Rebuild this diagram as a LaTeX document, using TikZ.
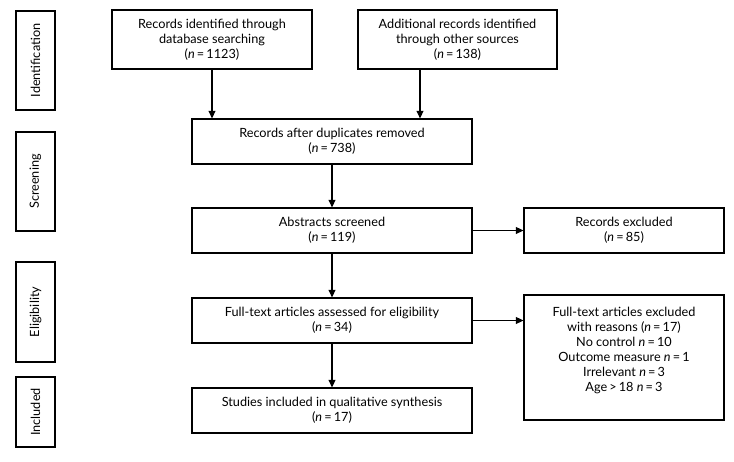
\documentclass[tikz,border=0pt]{standalone}
\usepackage{fontspec}
\setmainfont{Lato}
\usetikzlibrary{arrows.meta}
\begin{document}
\begin{tikzpicture}[x=1pt,y=-1pt,
  every node/.style={font=\fontsize{12.7}{15}\selectfont},
  box/.style={draw, line width=1.3pt, align=center, inner sep=0pt},
  side/.style={draw, line width=1.3pt, minimum width=39pt, inner sep=0pt},
  arr/.style={line width=1.3pt, -{Triangle[width=7pt,length=7.5pt]}}]
\useasboundingbox (0,0) rectangle (734,462);
% side labels
\node[side, minimum height=99pt] (sid) at (35.5,60.5) {};
\node[rotate=90] (sidt) at (sid.center) {Identification};
\node[side, minimum height=99pt] (sscr) at (35.5,181.5) {};
\node[rotate=90] (sscrt) at (sscr.center) {Screening};
\node[side, minimum height=100pt] (selg) at (35.5,312) {};
\node[rotate=90] (selgt) at (selg.center) {Eligibility};
\node[side, minimum height=70pt] (sinc) at (35.5,412) {};
\node[rotate=90] (sinct) at (sinc.center) {Included};
% main boxes
\node[box, minimum width=200pt, minimum height=59pt] (db) at (212,39.5)
  {Records identified through\\database searching\\(\textit{n}\,=\,1123)};
\node[box, minimum width=199pt, minimum height=59pt] (oth) at (457.5,39.5)
  {Additional records identified\\through other sources\\(\textit{n}\,=\,138)};
\node[box, minimum width=280pt, minimum height=45pt] (dup) at (332,141.5)
  {Records after duplicates removed\\(\textit{n}\,=\,738)};
\node[box, minimum width=280pt, minimum height=45pt] (abs) at (332,230.5)
  {Abstracts screened\\(\textit{n}\,=\,119)};
\node[box, minimum width=200pt, minimum height=45pt] (ex1) at (624,230.5)
  {Records excluded\\(\textit{n}\,=\,85)};
\node[box, minimum width=280pt, minimum height=45pt] (full) at (332,320.5)
  {Full-text articles assessed for eligibility\\(\textit{n}\,=\,34)};
\node[box, minimum width=200pt, minimum height=125pt] (ex2) at (624,357.5) {};
\node[align=center] (ex2t) at (624,350)
  {Full-text articles excluded\\with reasons (\textit{n}\,=\,17)\\No control \textit{n}\,=\,10\\Outcome measure \textit{n}\,=\,1\\Irrelevant \textit{n}\,=\,3\\Age\,>\,18 \textit{n}\,=\,3};
\node[box, minimum width=280pt, minimum height=45pt] (inc) at (332,410.5)
  {Studies included in qualitative synthesis\\(\textit{n}\,=\,17)};
% arrows
\draw[arr] (db.south) -- (db.south |- dup.north);
\draw[arr] (oth.south -| 420,0) -- (420,0 |- dup.north);
\draw[arr] (dup) -- (abs);
\draw[arr] (abs) -- (ex1);
\draw[arr] (abs) -- (full);
\draw[arr] (full.east) -- (full.east -| ex2.west);
\draw[arr] (full) -- (inc);
\end{tikzpicture}
\end{document}
